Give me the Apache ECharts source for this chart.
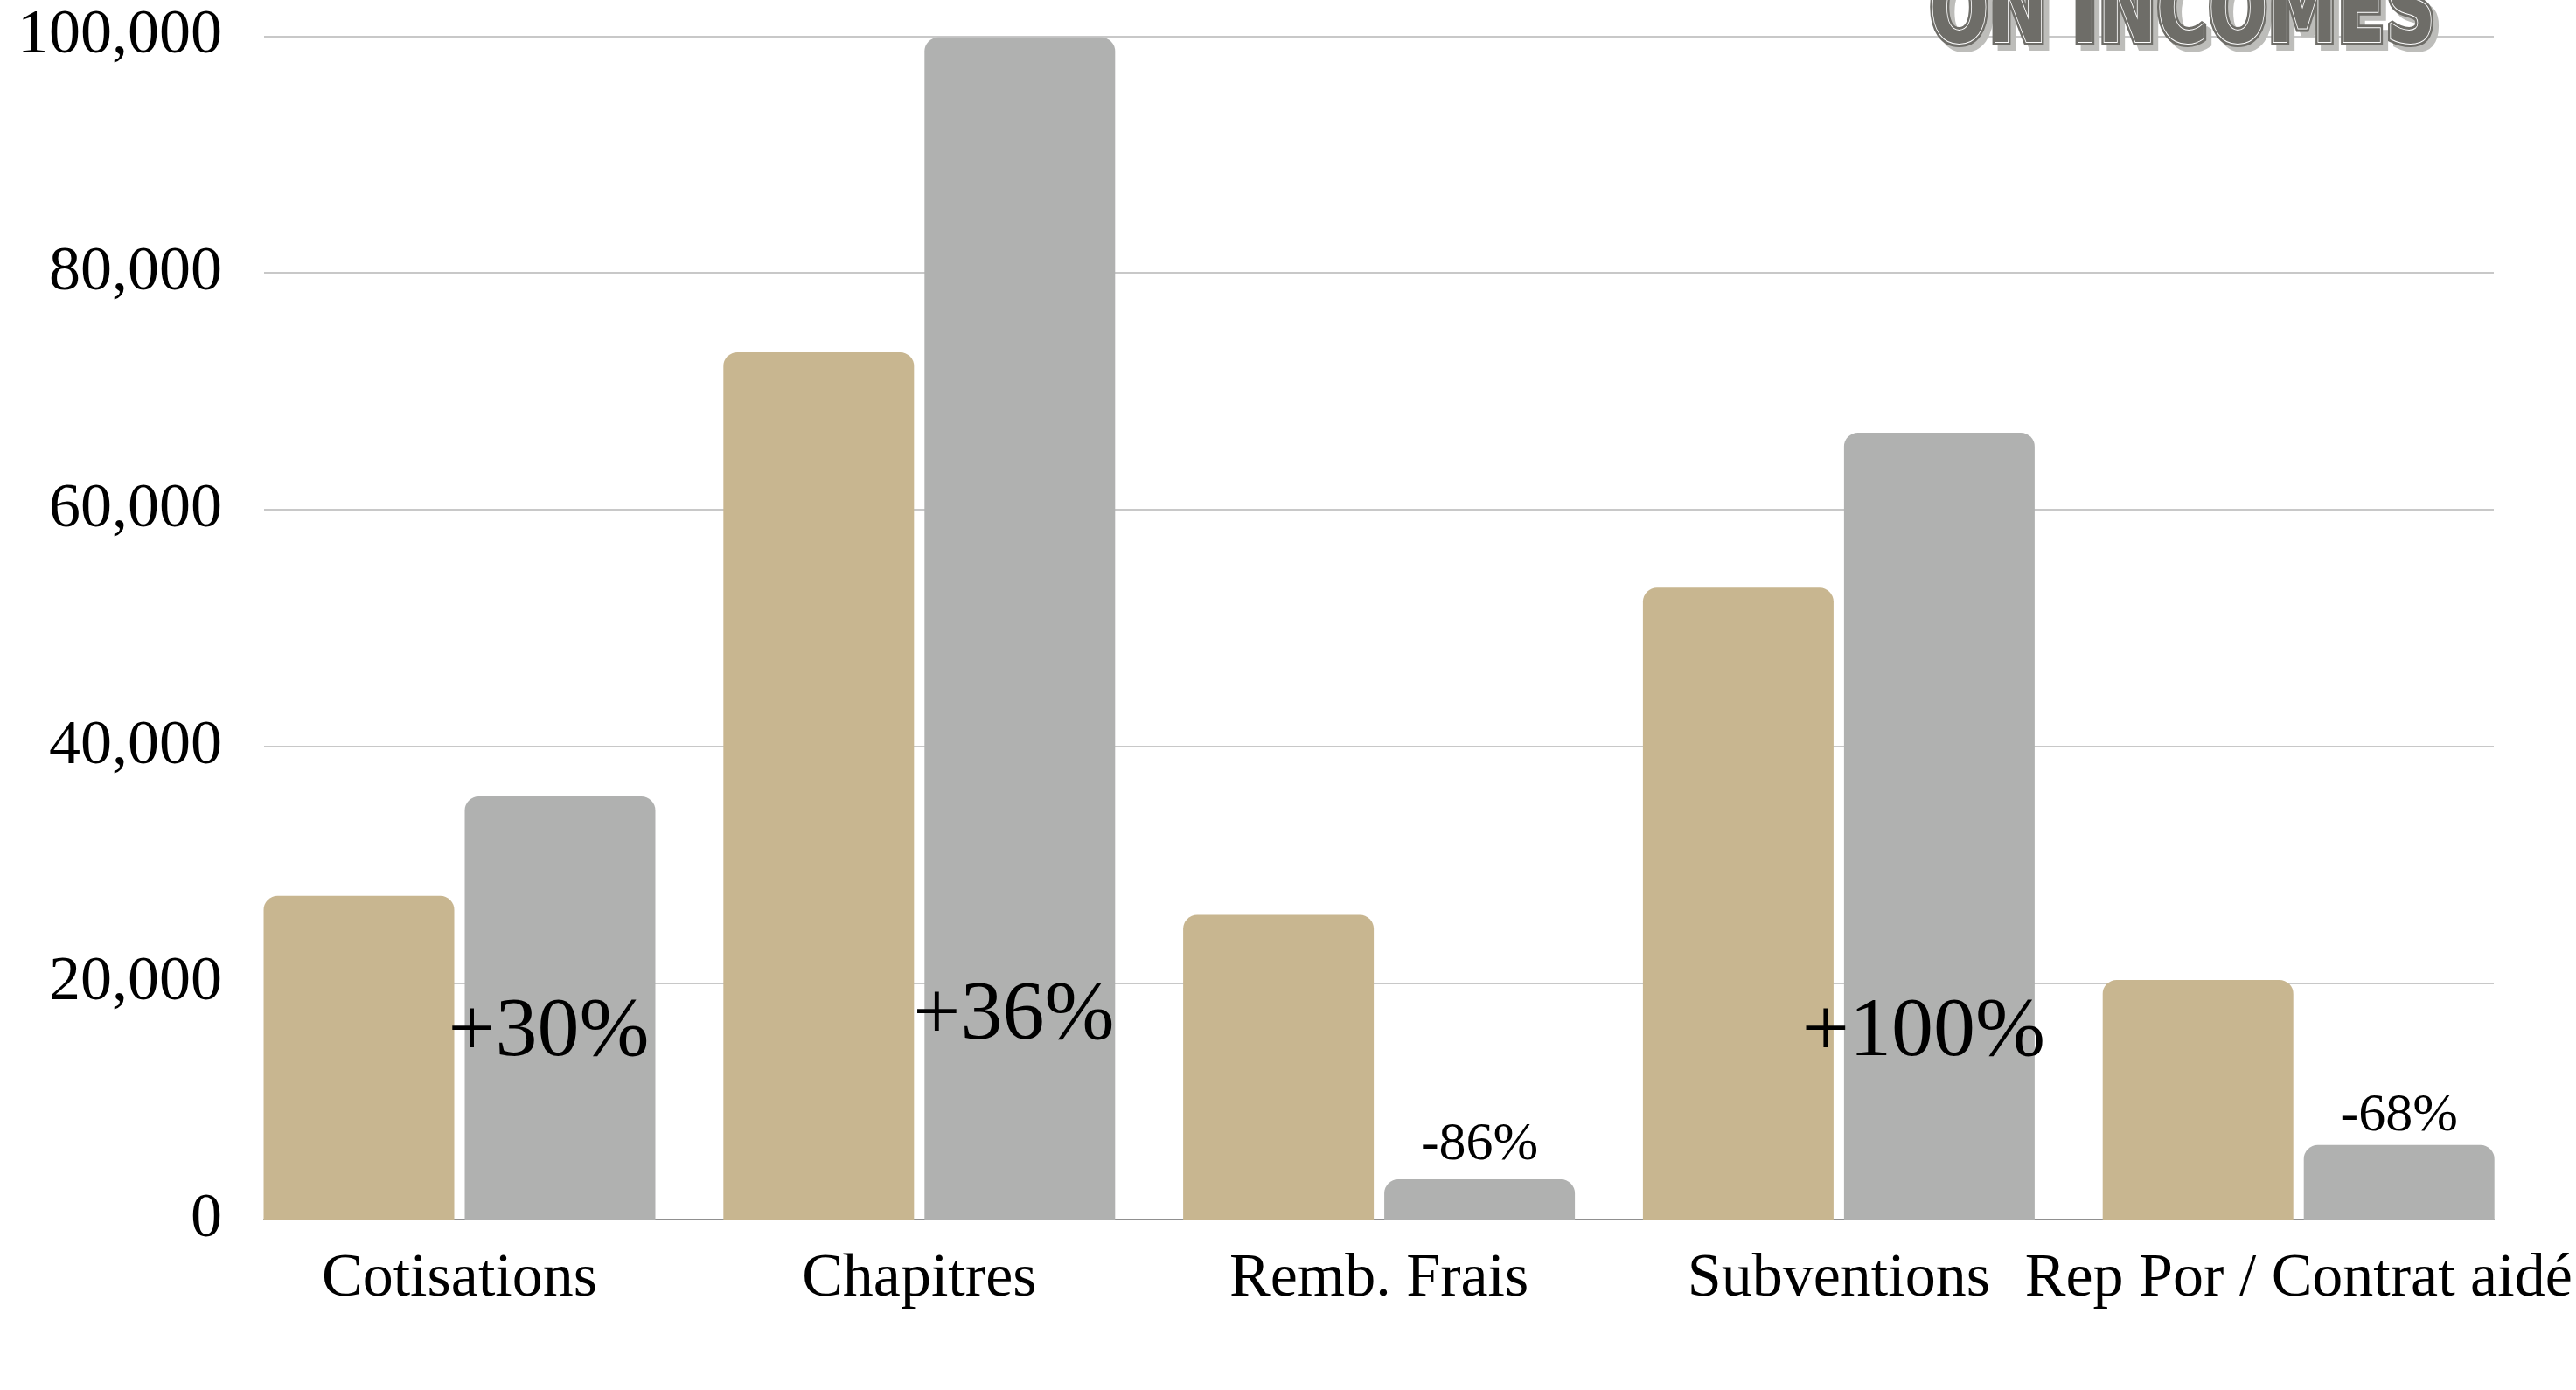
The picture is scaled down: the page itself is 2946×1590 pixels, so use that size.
<!DOCTYPE html>
<html>
<head>
<meta charset="utf-8">
<style>
  html, body { margin: 0; padding: 0; background: #ffffff; }
  #chart { width: 2946px; height: 1590px; }
</style>
<script src="https://cdn.jsdelivr.net/npm/echarts@6/dist/echarts.min.js"></script>
</head>
<body>
<div id="chart"></div>
<script>
// ---- data ----
const categories = ['Cotisations', 'Chapitres', 'Remb. Frais', 'Subventions', 'Rep Por / Contrat aidé'];
const previousValues = [27350, 73300, 25750, 53400, 20250];
const currentValues = [35750, 99900, 3400, 66500, 6300];
const changeLabels = ['+30%', '+36%', '-86%', '+100%', '-68%'];
const yTicks = [0, 20000, 40000, 60000, 80000, 100000];
const titleText = 'ON INCOMES';

// ---- styles (not data) ----
const SERIF = '"Liberation Serif", "Times New Roman", serif';
const TAN = '#c8b690';
const GREY = '#b0b1b0';
const labelStyles = [
  { position: 'insideBottom', distance: 165, offset: [-13, 0], fontSize: 96 },
  { position: 'insideBottom', distance: 184, offset: [-7, 0], fontSize: 96 },
  { position: 'top', distance: 8, offset: [0, 0], fontSize: 62 },
  { position: 'insideBottom', distance: 165, offset: [-18, 0], fontSize: 96 },
  { position: 'top', distance: 2, offset: [0, 0], fontSize: 62 }
];

const chart = echarts.init(document.getElementById('chart'), null, { renderer: 'canvas' });

const yMin = yTicks[0];
const yMax = yTicks[yTicks.length - 1];
const yInterval = yTicks[1] - yTicks[0];

const currentData = currentValues.map((v, i) => ({
  value: v,
  label: {
    show: true,
    formatter: changeLabels[i],
    position: labelStyles[i].position,
    distance: labelStyles[i].distance,
    offset: labelStyles[i].offset,
    fontSize: labelStyles[i].fontSize,
    lineHeight: labelStyles[i].fontSize,
    fontFamily: SERIF,
    color: '#000000'
  }
}));

const categoryData = categories.map((c, i) => (
  i === 1 ? { value: c, textStyle: { padding: [0, 0, 10, 0], verticalAlign: 'top' } } : c
));

function titleLayer(dx, dy, fill, stroke, strokeW, z) {
  return {
    type: 'text',
    x: 2496 + dx,
    y: 74 + dy,
    scaleX: 0.81,
    z: z,
    style: {
      text: titleText,
      font: 'bold 110px "Liberation Sans Narrow", "DejaVu Sans Condensed", sans-serif',
      fill: fill,
      stroke: stroke,
      lineWidth: strokeW,
      textAlign: 'center',
      textVerticalAlign: 'bottom'
    }
  };
}

const option = {
  backgroundColor: '#ffffff',
  animation: false,
  grid: [
    { left: 262.6, right: 54.4, top: 41.5, bottom: 195, containLabel: false },
    { left: 302, right: 94, top: 41.5, bottom: 195, containLabel: false }
  ],
  xAxis: [
    {
      type: 'category',
      gridIndex: 0,
      data: categoryData,
      axisLine: { show: false },
      axisTick: { show: false },
      axisLabel: {
        interval: 0,
        hideOverlap: false,
        margin: 34,
        fontSize: 70,
        fontFamily: SERIF,
        color: '#000000'
      }
    },
    {
      type: 'category',
      gridIndex: 1,
      data: [''],
      axisLine: { show: true, lineStyle: { color: '#909090', width: 2 } },
      axisTick: { show: false },
      axisLabel: { show: false },
      z: 0
    }
  ],
  yAxis: [
    {
      type: 'value',
      gridIndex: 0,
      min: yMin,
      max: yMax,
      interval: yInterval,
      show: false,
      splitLine: { show: false }
    },
    {
      type: 'value',
      gridIndex: 1,
      min: yMin,
      max: yMax,
      interval: yInterval,
      axisLine: { show: false },
      axisTick: { show: false },
      axisLabel: {
        margin: 48,
        fontSize: 72,
        fontFamily: SERIF,
        color: '#000000',
        formatter: v => v.toLocaleString('en-US')
      },
      splitLine: { show: true, lineStyle: { color: '#c8c8c8', width: 2 } },
      z: 0
    }
  ],
  series: [
    {
      name: 'Previous',
      type: 'bar',
      xAxisIndex: 0,
      yAxisIndex: 0,
      data: previousValues,
      barWidth: 218,
      barGap: '5.5%',
      itemStyle: { color: TAN, borderRadius: [16, 16, 0, 0] },
      z: 3
    },
    {
      name: 'Current',
      type: 'bar',
      xAxisIndex: 0,
      yAxisIndex: 0,
      data: currentData,
      barWidth: 218,
      barGap: '5.5%',
      itemStyle: { color: GREY, borderRadius: [16, 16, 0, 0] },
      z: 3
    }
  ],
  graphic: [
    titleLayer(6, 6, '#bdbdba', '#bdbdba', 8, 10),
    titleLayer(0, 0, '#6e6d68', '#6e6d68', 8, 11),
    titleLayer(0, 0, '#6e6d68', '#ffffff', 2, 12)
  ]
};

chart.setOption(option);
</script>
</body>
</html>
